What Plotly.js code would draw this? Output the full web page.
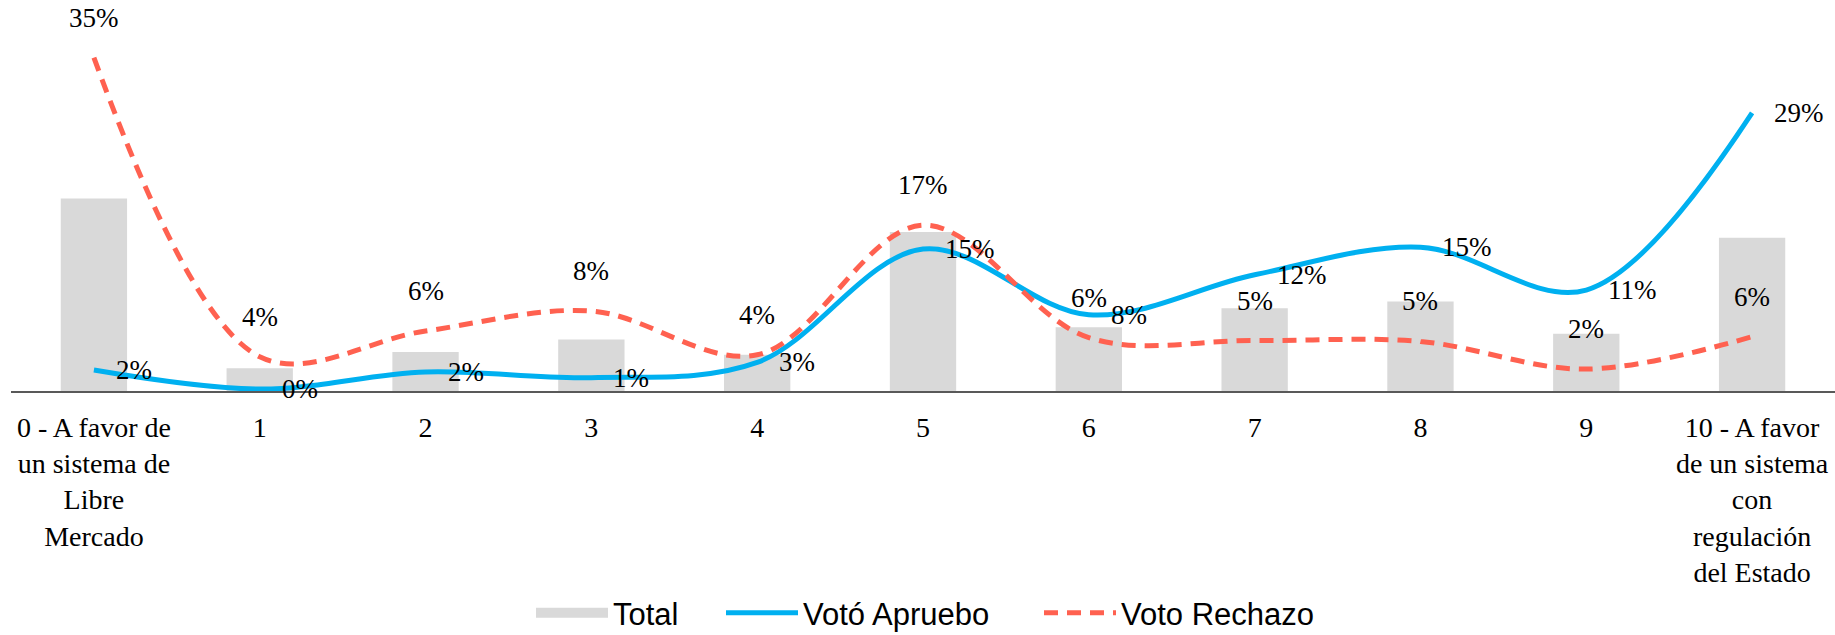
<!DOCTYPE html>
<html>
<head>
<meta charset="utf-8">
<script src="https://cdn.plot.ly/plotly-3.0.1.min.js"></script>
<style>
html, body { margin: 0; padding: 0; background: #fff; }
#chart { width: 1835px; height: 635px; }
</style>
</head>
<body>
<div id="chart"></div>
<script>
// Categories (x axis tick labels)
const categories = [
  '0 - A favor de<br>un sistema de<br>Libre<br>Mercado',
  '1', '2', '3', '4', '5', '6', '7', '8', '9',
  '10 - A favor<br>de un sistema<br>con<br>regulación<br>del Estado'
];

// Series values (percent)
const total   = [20.2, 2.4, 4.1, 5.4, 3.8, 16.7, 6.7, 8.7, 9.4, 6.0, 16.1];
const apruebo = [2.2, 0.2, 2.0, 1.4, 3.0, 14.9, 8.0, 12.2, 15.1, 10.6, 29.2];
const rechazo = [35.0, 3.6, 6.3, 8.4, 3.8, 17.4, 5.6, 5.3, 5.2, 2.3, 5.7];

const seriesNames = ['Total', 'Votó Apruebo', 'Voto Rechazo'];

const serif = 'Liberation Serif, Times New Roman, serif';
const labelFont = { family: serif, size: 27, color: '#000' };
const legendFont = { family: 'Liberation Sans, Arial, sans-serif', size: 31, color: '#000' };

const traces = [
  {
    type: 'bar', name: seriesNames[0], x: categories, y: total, showlegend: false,
    width: 0.4, marker: { color: '#D9D9D9' }, hoverinfo: 'skip'
  },
  {
    // legend entry for the bars (wide grey swatch)
    type: 'scatter', mode: 'lines', name: seriesNames[0], x: [null], y: [null],
    legend: 'legend', line: { color: '#D9D9D9', width: 16 }, hoverinfo: 'skip'
  },
  {
    type: 'scatter', mode: 'lines', name: seriesNames[1], x: categories, y: apruebo,
    legend: 'legend2',
    line: { color: '#00B0F0', width: 5, shape: 'spline', smoothing: 1 }, hoverinfo: 'skip'
  },
  {
    type: 'scatter', mode: 'lines', name: seriesNames[2], x: categories, y: rechazo,
    legend: 'legend3',
    line: { color: '#FF6150', width: 5, shape: 'spline', smoothing: 1, dash: '14px,9px' }, hoverinfo: 'skip'
  }
];

const annotations = [];
categories.forEach((c, i) => {
  annotations.push({
    x: c, y: apruebo[i], xref: 'x', yref: 'y',
    text: Math.round(apruebo[i]) + '%', showarrow: false,
    xanchor: 'left', yanchor: 'middle', xshift: 20, font: labelFont
  });
  annotations.push({
    x: c, y: rechazo[i], xref: 'x', yref: 'y',
    text: Math.round(rechazo[i]) + '%', showarrow: false,
    xanchor: 'center', yanchor: 'middle', yshift: 40, font: labelFont
  });
});

function legendAt(px) {
  return {
    orientation: 'h', xref: 'container', yref: 'container',
    x: px / 1835, xanchor: 'left', y: 1 - 613 / 635, yanchor: 'middle',
    font: legendFont, itemwidth: 72, bgcolor: 'rgba(0,0,0,0)'
  };
}

const layout = {
  width: 1835, height: 635,
  margin: { l: 11, r: 0, t: 10, b: 244 },
  paper_bgcolor: '#fff', plot_bgcolor: '#fff',
  barmode: 'overlay',
  showlegend: true,
  legend: legendAt(531),
  legend2: legendAt(721),
  legend3: legendAt(1039),
  xaxis: {
    type: 'category', range: [-0.5, 10.5],
    showgrid: false, zeroline: false, ticks: '',
    showline: true, linecolor: '#595959', linewidth: 2,
    tickfont: { family: serif, size: 28, color: '#000' },
    ticklabelstandoff: 10, automargin: false
  },
  yaxis: {
    range: [0, 40], visible: false, showgrid: false, zeroline: false
  },
  annotations: annotations
};

Plotly.newPlot('chart', traces, layout, { displayModeBar: false, staticPlot: true });
</script>
</body>
</html>
